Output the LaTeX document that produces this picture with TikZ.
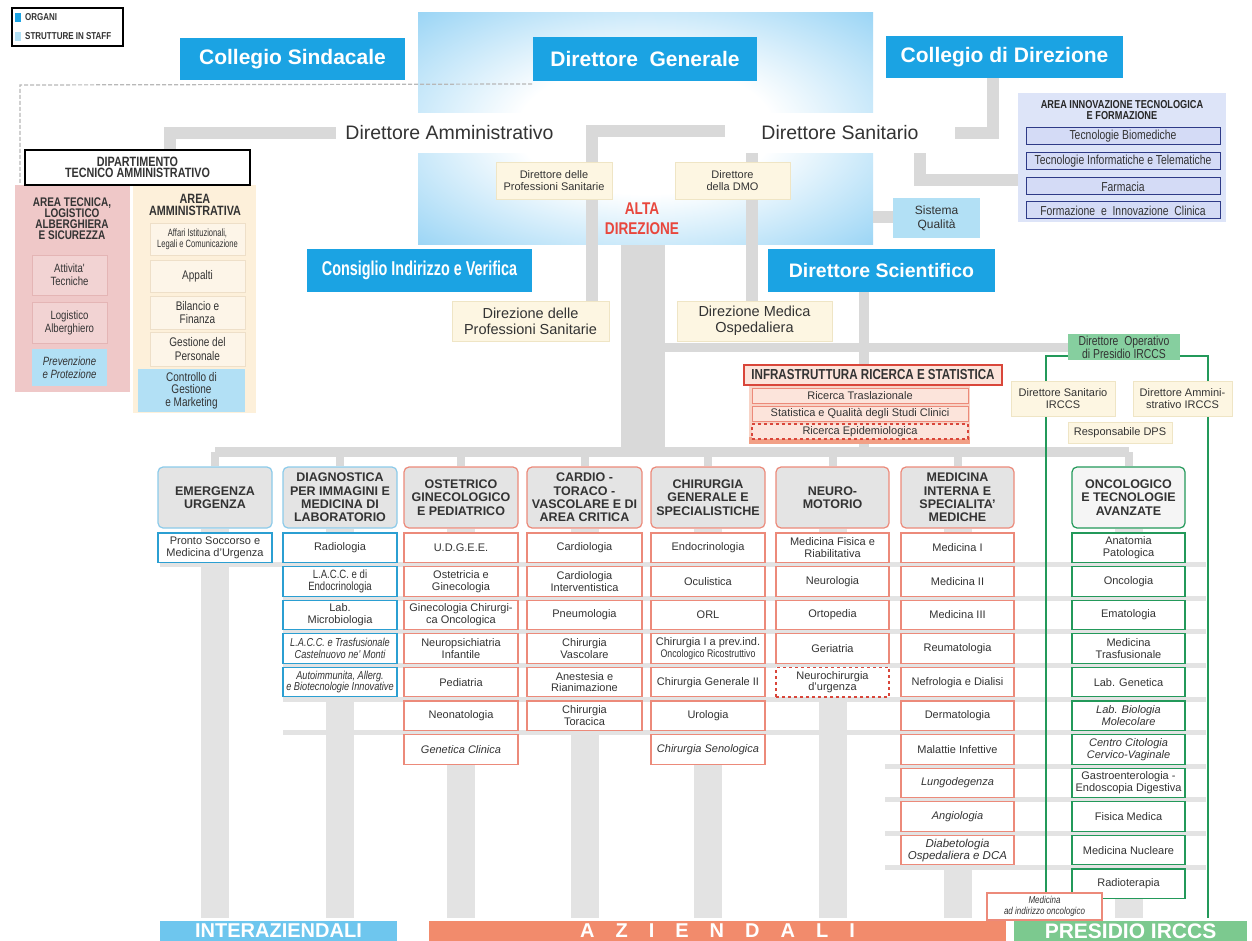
\documentclass[tikz,border=0pt]{standalone}
\usepackage{fontspec}
\setmainfont{Liberation Sans}
\newfontfamily\nar[FakeStretch=0.8]{Liberation Sans}
\newfontfamily\narr[FakeStretch=0.72]{Liberation Sans}
\usetikzlibrary{calc}
\definecolor{organblue}{HTML}{1BA3E3}
\definecolor{altablue}{HTML}{7CC8F2}
\definecolor{staffblue}{HTML}{B2E0F5}
\definecolor{linegray}{HTML}{D9D9D9}
\definecolor{pipegray}{HTML}{E3E3E3}
\definecolor{hdrgray}{HTML}{E4E4E4}
\definecolor{txt}{HTML}{333333}
\definecolor{creamc}{HTML}{FDF6E2}
\definecolor{creamb}{HTML}{EFE5C5}
\definecolor{bluebd}{HTML}{2B9FD2}
\definecolor{hdrblue}{HTML}{8CCBEA}
\definecolor{salmon}{HTML}{EC8A7A}
\definecolor{redbd}{HTML}{D9463A}
\definecolor{greenbd}{HTML}{23995A}
\definecolor{greenfill}{HTML}{86CF9F}
\definecolor{pinkarea}{HTML}{EFC8C8}
\definecolor{pinkbox}{HTML}{F2D3D3}
\definecolor{pinkbd}{HTML}{E4B5B5}
\definecolor{creamarea}{HTML}{FDF0DA}
\definecolor{creambox}{HTML}{FDF5E8}
\definecolor{creamboxbd}{HTML}{EEDFC8}
\definecolor{lav}{HTML}{DDE4F8}
\definecolor{lavbox}{HTML}{D4DBF6}
\definecolor{navy}{HTML}{2E3A87}
\definecolor{altared}{HTML}{E8473D}
\definecolor{barblue}{HTML}{6EC6EE}
\definecolor{barsal}{HTML}{F28B6C}
\definecolor{bargreen}{HTML}{7CC98F}
\definecolor{infrafill}{HTML}{FCE4DB}
\definecolor{infragrp}{HTML}{F8D3C6}
\definecolor{infrastripe}{HTML}{F2A086}
\definecolor{dashgray}{HTML}{B8B8B8}
\pgfdeclareradialshading{altashade}{\pgfpoint{0bp}{0bp}}{color(0bp)=(white); color(14bp)=(white); color(42bp)=(altablue); color(50bp)=(altablue)}
\pgfdeclarelayer{back}
\pgfdeclarelayer{mid}
\pgfsetlayers{back,mid,main}
\newcommand\bx[7]{\node[#6, minimum width={#4-#2}, minimum height={#5-#3}] (#1) at ({(#2+#4)/2},{(#3+#5)/2}) {#7};}
\newcommand\li[6]{\pgfmathsetmacro\lTop{533+33.6*#4}\pgfmathsetmacro\lBot{\lTop+29.5}\bx{#1}{#2}{\lTop}{#3}{\lBot}{#5}{#6}}
\tikzset{
 organ/.style={fill=organblue,text=white,font=\bfseries\fontsize{21}{24}\selectfont},
 organn/.style={fill=organblue,text=white,font=\narr\bfseries\fontsize{20}{24}\selectfont},
 staffw/.style={fill=white,font=\fontsize{19.5}{22}\selectfont},
 creambx/.style={fill=creamc,draw=creamb,line width=0.6pt,font=\fontsize{11}{12.5}\selectfont},
 creambig/.style={fill=creamc,draw=creamb,line width=0.6pt,font=\fontsize{14.5}{16}\selectfont},
 conn/.style={draw=linegray,line width=12pt},
 thinconn/.style={draw=linegray,line width=8pt},
 pipe/.style={draw=pipegray,line width=28pt},
 band/.style={draw=pipegray,line width=5pt},
 gline/.style={draw=greenbd,line width=2.2pt},
 dashline/.style={draw=dashgray,line width=1.2pt,dash pattern=on 4pt off 2pt},
 hdrbase/.style={rounded corners=5pt,fill=hdrgray,line width=1.2pt,font=\bfseries\fontsize{12.5}{13.4}\selectfont,text=txt},
 hdrB/.style={hdrbase,draw=hdrblue},
 hdrR/.style={hdrbase,draw=salmon},
 hdrG/.style={hdrbase,draw=greenbd,fill=black!4},
 itbase/.style={fill=white,line width=1.1pt,font=\fontsize{11}{11.8}\selectfont},
 itB/.style={itbase,draw=bluebd},
 itR/.style={itbase,draw=salmon},
 itG/.style={itbase,draw=greenbd},
 itD/.style={itbase,draw=redbd,dashed,line width=1.4pt},
 pinkitem/.style={fill=pinkbox,draw=pinkbd,line width=0.6pt,font=\nar\fontsize{12}{13}\selectfont},
 creamitem/.style={fill=creambox,draw=creamboxbd,line width=0.6pt,font=\nar\fontsize{12.5}{13.5}\selectfont},
 lavitem/.style={fill=lavbox,draw=navy,line width=1pt,font=\nar\fontsize{13}{13}\selectfont},
 infraitem/.style={fill=infrafill,draw=salmon,line width=0.8pt,font=\fontsize{11}{11}\selectfont},
 barlbl/.style={text=white,font=\bfseries\fontsize{20}{20}\selectfont},
}
\begin{document}
\begin{tikzpicture}[x=1pt,y=-1pt,every node/.style={inner sep=0pt,align=center,text=txt}]
\useasboundingbox (0,0) rectangle (1252,941);
\begin{pgfonlayer}{back}
\fill[white] (0,0) rectangle (1252,941);
\shade[shading=altashade] (418,13) rectangle (873,245);
\end{pgfonlayer}

% ---------- legend ----------
\node[draw=black,line width=1.2pt,fill=white,minimum width=111,minimum height=38] (legend) at (67.5,27) {};
\node[fill=organblue,minimum width=6,minimum height=9] (lg1) at (18,17.5) {};
\node[anchor=west,font=\nar\bfseries\fontsize{10}{10}\selectfont] (lgt1) at (25,17.5) {ORGANI};
\node[fill=staffblue,minimum width=6,minimum height=9] (lg2) at (18,36.5) {};
\node[anchor=west,font=\nar\bfseries\fontsize{10}{10}\selectfont] (lgt2) at (25,36.5) {STRUTTURE IN STAFF};

% ---------- top organs ----------
\bx{CS}{180}{38}{405}{80}{organ}{Collegio Sindacale}
\bx{DG}{533}{37}{757}{81}{organ}{Direttore\ \ Generale}
\bx{CD}{886}{36}{1123}{78}{organ}{Collegio di Direzione}
\bx{DA}{336}{113}{563}{153}{staffw}{Direttore Amministrativo}
\bx{DSan}{725}{113}{955}{153}{staffw}{Direttore Sanitario}
\bx{DPS}{496}{162}{612}{199}{creambx}{Direttore delle\\Professioni Sanitarie}
\bx{DDMO}{675}{162}{790}{199}{creambx}{Direttore\\della DMO}
\node[font=\nar\bfseries\fontsize{17}{20}\selectfont,text=altared] (AD) at (642,219) {ALTA\\DIREZIONE};
\bx{SQ}{893}{198}{980}{238}{fill=staffblue,font=\fontsize{12}{14}\selectfont}{Sistema\\Qualità}
\bx{CIV}{307}{249}{532}{292}{organn}{Consiglio Indirizzo e Verifica}
\bx{DSc}{768}{249}{995}{292}{organ,font=\bfseries\fontsize{19.5}{22}\selectfont}{Direttore Scientifico}
\bx{DirPS}{452}{301}{609}{341}{creambig}{Direzione delle\\Professioni Sanitarie}
\bx{DMO}{677}{301}{832}{341}{creambig}{Direzione Medica\\Ospedaliera}

% ---------- left department ----------
\bx{pinkA}{15}{185}{130}{392}{fill=pinkarea}{}
\bx{creamA}{133}{185}{256}{413}{fill=creamarea}{}
\bx{DTA}{25}{150}{250}{185}{fill=white,draw=black,line width=1.2pt,font=\nar\bfseries\fontsize{13.5}{11}\selectfont}{DIPARTIMENTO\\TECNICO AMMINISTRATIVO}
\node[font=\nar\bfseries\fontsize{12.5}{11}\selectfont] (pinkT) at (72,219) {AREA TECNICA,\\LOGISTICO\\ALBERGHIERA\\E SICUREZZA};
\node[font=\nar\bfseries\fontsize{13.5}{12}\selectfont] (creamT) at (195,205) {AREA\\AMMINISTRATIVA};
\bx{AT}{32}{255}{107}{295}{pinkitem}{Attivita'\\Tecniche}
\bx{LA}{32}{302}{107}{343}{pinkitem}{Logistico\\Alberghiero}
\bx{PP}{32}{349}{107}{386}{fill=staffblue,font=\nar\itshape\fontsize{12}{13}\selectfont}{Prevenzione\\e Protezione}
\bx{AIL}{150}{223}{245}{255}{creamitem,font=\narr\fontsize{10.5}{11}\selectfont}{Affari Istituzionali,\\Legali e Comunicazione}
\bx{APP}{150}{260}{245}{292}{creamitem}{Appalti}
\bx{BF}{150}{296}{245}{329}{creamitem}{Bilancio e\\Finanza}
\bx{GP}{150}{332}{245}{366}{creamitem}{Gestione del\\Personale}
\bx{CGM}{138}{369}{245}{412}{fill=staffblue,font=\nar\fontsize{12.5}{12.5}\selectfont}{Controllo di\\Gestione\\e Marketing}

% ---------- area innovazione ----------
\bx{AIT}{1018}{93}{1226}{222}{fill=lav}{}
\node[font=\nar\bfseries\fontsize{11.5}{11}\selectfont,text=black!85] (AITt) at (1122,110) {AREA INNOVAZIONE TECNOLOGICA\\E FORMAZIONE};
\bx{TB}{1026}{128}{1220}{145}{lavitem}{Tecnologie Biomediche}
\bx{TIT}{1026}{153}{1220}{170}{lavitem}{Tecnologie Informatiche e Telematiche}
\bx{FA}{1026}{178}{1220}{195}{lavitem}{Farmacia}
\bx{FIC}{1026}{202}{1220}{219}{lavitem}{Formazione\ \ e\ \ Innovazione\ \ Clinica}

% ---------- IRCCS ----------
\bx{DOP}{1068}{334}{1180}{360}{fill=greenfill,font=\nar\fontsize{13}{13}\selectfont}{Direttore\ \ Operativo\\di Presidio IRCCS}
\bx{DSI}{1011}{381}{1115}{416}{creambx}{Direttore Sanitario\\IRCCS}
\bx{DAI}{1133}{381}{1232}{416}{creambx}{Direttore Ammini-\\strativo IRCCS}
\bx{RDPS}{1068}{422}{1172}{443}{creambx}{Responsabile DPS}

% ---------- infrastruttura ----------
\bx{IRSg}{749}{386}{970}{444}{fill=infragrp}{}
\bx{IRSs}{749}{437}{970}{444}{fill=infrastripe}{}
\bx{IRS}{744}{365}{1002}{385}{fill=infrafill,draw=redbd,line width=1.5pt,font=\nar\bfseries\fontsize{14.5}{14.5}\selectfont}{INFRASTRUTTURA RICERCA E STATISTICA}
\bx{RT}{752}{388}{968}{403}{infraitem}{Ricerca Traslazionale}
\bx{SQS}{752}{406}{968}{421}{infraitem}{Statistica e Qualità degli Studi Clinici}
\bx{RE}{752}{424}{968}{439}{infraitem,draw=redbd,dashed,line width=1.4pt}{Ricerca Epidemiologica}

% ---------- department headers ----------
\bx{H1}{158}{467}{272}{528}{hdrB}{EMERGENZA\\URGENZA}
\bx{H2}{283}{467}{397}{528}{hdrB}{DIAGNOSTICA\\PER IMMAGINI E\\MEDICINA DI\\LABORATORIO}
\bx{H3}{404}{467}{518}{528}{hdrR}{OSTETRICO\\GINECOLOGICO\\E PEDIATRICO}
\bx{H4}{527}{467}{642}{528}{hdrR}{CARDIO -\\TORACO -\\VASCOLARE E DI\\AREA CRITICA}
\bx{H5}{651}{467}{765}{528}{hdrR}{CHIRURGIA\\GENERALE E\\SPECIALISTICHE}
\bx{H6}{776}{467}{889}{528}{hdrR}{NEURO-\\MOTORIO}
\bx{H7}{901}{467}{1014}{528}{hdrR}{MEDICINA\\INTERNA E\\SPECIALITA'\\MEDICHE}
\bx{H8}{1072}{467}{1185}{528}{hdrG}{ONCOLOGICO\\E TECNOLOGIE\\AVANZATE}

% ---------- lists ----------
\li{c1a}{158}{272}{0}{itB}{Pronto Soccorso e\\Medicina d'Urgenza}

\li{c2a}{283}{397}{0}{itB}{Radiologia}
\li{c2b}{283}{397}{1}{itB,font=\nar\fontsize{12}{12}\selectfont}{L.A.C.C. e di\\Endocrinologia}
\li{c2c}{283}{397}{2}{itB}{Lab.\\Microbiologia}
\li{c2d}{283}{397}{3}{itB,font=\nar\itshape\fontsize{11.5}{11.5}\selectfont}{L.A.C.C. e Trasfusionale\\Castelnuovo ne' Monti}
\li{c2e}{283}{397}{4}{itB,font=\nar\itshape\fontsize{11.5}{11.5}\selectfont}{Autoimmunita, Allerg.\\e Biotecnologie Innovative}

\li{c3a}{404}{518}{0}{itR}{U.D.G.E.E.}
\li{c3b}{404}{518}{1}{itR}{Ostetricia e\\Ginecologia}
\li{c3c}{404}{518}{2}{itR}{Ginecologia Chirurgi-\\ca Oncologica}
\li{c3d}{404}{518}{3}{itR}{Neuropsichiatria\\Infantile}
\li{c3e}{404}{518}{4}{itR}{Pediatria}
\li{c3f}{404}{518}{5}{itR}{Neonatologia}
\li{c3g}{404}{518}{6}{itR,font=\itshape\fontsize{11}{12}\selectfont}{Genetica Clinica}

\li{c4a}{527}{642}{0}{itR}{Cardiologia}
\li{c4b}{527}{642}{1}{itR}{Cardiologia\\Interventistica}
\li{c4c}{527}{642}{2}{itR}{Pneumologia}
\li{c4d}{527}{642}{3}{itR}{Chirurgia\\Vascolare}
\li{c4e}{527}{642}{4}{itR}{Anestesia e\\Rianimazione}
\li{c4f}{527}{642}{5}{itR}{Chirurgia\\Toracica}

\li{c5a}{651}{765}{0}{itR}{Endocrinologia}
\li{c5b}{651}{765}{1}{itR}{Oculistica}
\li{c5c}{651}{765}{2}{itR}{ORL}
\li{c5d}{651}{765}{3}{itR}{Chirurgia\ I\ a\ prev.ind.\\{\nar\fontsize{11}{11}\selectfont Oncologico\ Ricostruttivo}}
\li{c5e}{651}{765}{4}{itR}{Chirurgia Generale II}
\li{c5f}{651}{765}{5}{itR}{Urologia}
\li{c5g}{651}{765}{6}{itR,font=\itshape\fontsize{11}{12}\selectfont}{Chirurgia Senologica}

\li{c6a}{776}{889}{0}{itR}{Medicina Fisica e\\Riabilitativa}
\li{c6b}{776}{889}{1}{itR}{Neurologia}
\li{c6c}{776}{889}{2}{itR}{Ortopedia}
\li{c6d}{776}{889}{3}{itR}{Geriatria}
\li{c6e}{776}{889}{4}{itD}{Neurochirurgia\\d'urgenza}

\li{c7a}{901}{1014}{0}{itR}{Medicina I}
\li{c7b}{901}{1014}{1}{itR}{Medicina II}
\li{c7c}{901}{1014}{2}{itR}{Medicina III}
\li{c7d}{901}{1014}{3}{itR}{Reumatologia}
\li{c7e}{901}{1014}{4}{itR}{Nefrologia e Dialisi}
\li{c7f}{901}{1014}{5}{itR}{Dermatologia}
\li{c7g}{901}{1014}{6}{itR}{Malattie Infettive}
\li{c7h}{901}{1014}{7}{itR,font=\itshape\fontsize{11}{12}\selectfont}{Lungodegenza}
\li{c7i}{901}{1014}{8}{itR,font=\itshape\fontsize{11}{12}\selectfont}{Angiologia}
\li{c7j}{901}{1014}{9}{itR,font=\itshape\fontsize{11.5}{12}\selectfont}{Diabetologia\\Ospedaliera e DCA}

\li{c8a}{1072}{1185}{0}{itG}{Anatomia\\Patologica}
\li{c8b}{1072}{1185}{1}{itG}{Oncologia}
\li{c8c}{1072}{1185}{2}{itG}{Ematologia}
\li{c8d}{1072}{1185}{3}{itG}{Medicina\\Trasfusionale}
\li{c8e}{1072}{1185}{4}{itG}{Lab. Genetica}
\li{c8f}{1072}{1185}{5}{itG,font=\itshape\fontsize{11}{11.8}\selectfont}{Lab. Biologia\\Molecolare}
\li{c8g}{1072}{1185}{6}{itG,font=\itshape\fontsize{11}{11.8}\selectfont}{Centro Citologia\\Cervico-Vaginale}
\li{c8h}{1072}{1185}{7}{itG}{Gastroenterologia -\\Endoscopia Digestiva}
\li{c8i}{1072}{1185}{8}{itG}{Fisica Medica}
\li{c8j}{1072}{1185}{9}{itG}{Medicina Nucleare}
\li{c8k}{1072}{1185}{10}{itG}{Radioterapia}

\bx{MAIO}{987}{893}{1102}{920}{itR,font=\nar\itshape\fontsize{10}{10.5}\selectfont}{Medicina\\ad indirizzo oncologico}

% ---------- bottom bars ----------
\bx{BI}{160}{921}{397}{941}{fill=barblue,barlbl}{INTERAZIENDALI}
\bx{BA}{429}{921}{1006}{941}{fill=barsal,barlbl}{A\hspace{21pt}Z\hspace{21pt}I\hspace{21pt}E\hspace{21pt}N\hspace{21pt}D\hspace{21pt}A\hspace{21pt}L\hspace{21pt}I}
\bx{BP}{1014}{921}{1247}{941}{fill=bargreen,barlbl,font=\bfseries\fontsize{21}{21}\selectfont}{PRESIDIO IRCCS}

% ---------- connectors (under the boxes) ----------
\coordinate (busY) at (0,452);
\coordinate (botY) at (0,918);
\coordinate (lk) at (170,133);
\coordinate (rk) at (993,133);
\coordinate (ak) at (920,180);
\coordinate (sqk) at (873,217);
\coordinate (bl) at (592,131);
\coordinate (br) at (752,131);
\coordinate (trk) at (643,245);
\coordinate (dsk) at (864,0);
\coordinate (hk) at (643,347);
\coordinate (gl) at (1046,356);
\coordinate (gr) at (1208,356);
\coordinate (dk) at (20,85);
\coordinate (dgk) at (532,84);
\begin{pgfonlayer}{mid}
\draw[dashline] (dgk) -- (dk) -- (dk |- pinkA.north);
\draw[conn] (DA.west) -- (lk) -- (lk |- DTA.north);
\draw[conn] (DSan.east) -- (rk) -- (rk |- CD.south);
\draw[conn] (DSan.south -| ak) -- (ak) -- (ak -| AIT.west);
\draw[conn] (sqk) -- (sqk -| SQ.west);
\draw[conn] (bl |- DirPS.north) -- (bl) -- (br) -- (br |- DMO.north);
\draw[conn,line width=44pt] (trk) -- (trk |- busY);
\draw[conn,line width=10pt] (DSc.south -| dsk) -- (dsk |- busY);
\draw[conn,line width=9pt] (hk) -- (hk -| DOP.west);
\foreach \i in {1,...,8} {
  \draw[pipe] (H\i.south) -- (H\i.south |- botY);
}
\draw[band] (160,564.5) -- (1206,564.5);
\foreach \i in {2,...,6} {
  \draw[band] (283,{531+33.6*\i}) -- (1206,{531+33.6*\i});
}
\foreach \i in {7,...,10} {
  \draw[band] (885,{531+33.6*\i}) -- (1206,{531+33.6*\i});
}
\draw[thinconn,line width=10pt] (H1.north |- busY) -- (H8.north |- busY);
\foreach \i in {1,...,8} {
  \draw[thinconn] (H\i.north) -- (H\i.north |- busY);
}
\draw[gline] (DOP.west |- gl) -- (gl) -- (gl |- botY);
\draw[gline] (DOP.east |- gr) -- (gr) -- (gr |- botY);
\end{pgfonlayer}
\end{tikzpicture}
\end{document}
